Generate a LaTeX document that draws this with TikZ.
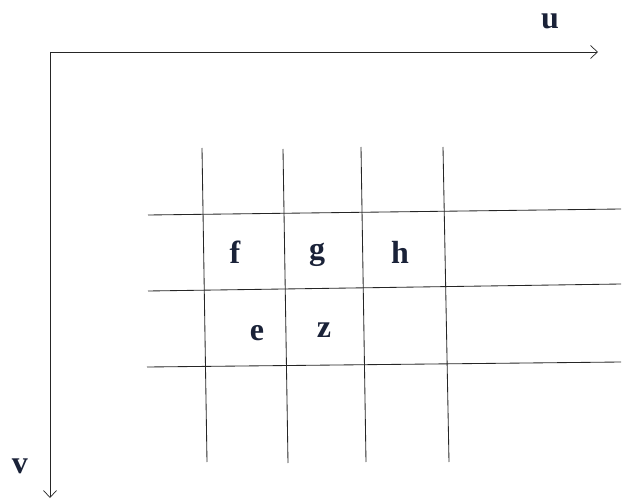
\documentclass[tikz,border=0pt]{standalone}
\usepackage{fontspec}
\setmainfont{Liberation Serif}
\usetikzlibrary{arrows.meta}
\definecolor{lbl}{HTML}{1A2238}
\tikzset{
  gridline/.style={draw=black!85, line width=0.85pt},
  axis/.style={draw=black!85, line width=0.85pt, -{Straight Barb[length=7pt,width=13pt,line width=0.7pt]}},
  lab/.style={text=lbl, font=\fontsize{32}{32}\selectfont\bfseries, inner sep=0pt, anchor=center}
}
\begin{document}
\begin{tikzpicture}[x=1pt,y=-1pt]
\useasboundingbox (0,0) rectangle (624,500);
% axes
\coordinate (O) at (50,52);
\coordinate (U) at (598,52);
\coordinate (V) at (50,498);
\draw[axis] (O) -- (U);
\draw[axis] (O) -- (V);
\node[lab] (u) at (550,21) {u};
\node[lab] (v) at (20,466) {v};
% vertical grid lines
\coordinate (a1) at (202,148); \coordinate (b1) at (207,462);
\coordinate (a2) at (283,149); \coordinate (b2) at (288,463);
\coordinate (a3) at (361,147); \coordinate (b3) at (366,462);
\coordinate (a4) at (443,147); \coordinate (b4) at (449,462);
\draw[gridline] (a1) -- (b1);
\draw[gridline] (a2) -- (b2);
\draw[gridline] (a3) -- (b3);
\draw[gridline] (a4) -- (b4);
% horizontal grid lines
\coordinate (l1) at (148,215); \coordinate (r1) at (621,209);
\coordinate (l2) at (148,291); \coordinate (r2) at (621,284);
\coordinate (l3) at (147,367); \coordinate (r3) at (621,362);
\draw[gridline] (l1) -- (r1);
\draw[gridline] (l2) -- (r2);
\draw[gridline] (l3) -- (r3);
% labels
\node[lab] (f) at (235,252) {f};
\node[lab] (g) at (317,255) {g};
\node[lab] (h) at (400,252) {h};
\node[lab] (e) at (257,333) {e};
\node[lab] (z) at (324,330) {z};
\end{tikzpicture}
\end{document}
